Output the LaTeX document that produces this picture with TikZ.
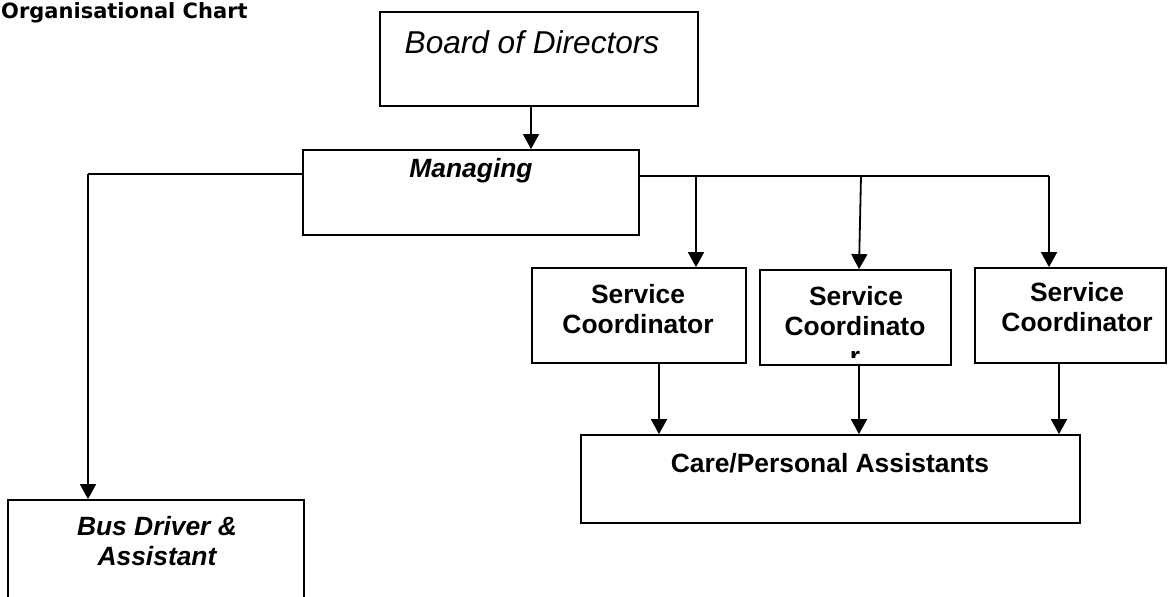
\documentclass[tikz,border=0pt]{standalone}
\usepackage{fontspec}
\setmainfont{Liberation Sans}
\newfontfamily\titlefont{DejaVu Sans}
\usetikzlibrary{arrows.meta}
\begin{document}
\begin{tikzpicture}[x=1pt,y=-1pt,
  box/.style={draw, line width=1.8pt, inner sep=0pt},
  conn/.style={line width=1.8pt},
  arr/.style={conn, -{Triangle[width=16pt,length=15pt]}},
  boldtxt/.style={font=\fontsize{26.4}{29.5}\selectfont\bfseries, inner sep=0pt, anchor=base},
  bitxt/.style={font=\fontsize{26.4}{29.5}\selectfont\bfseries\itshape, inner sep=0pt, anchor=base},
  itxt/.style={font=\fontsize{31.6}{35}\selectfont\itshape, inner sep=0pt, anchor=base},
]
\clip (0,0) rectangle (1168,597);
\fill[white] (0,0) rectangle (1168,597);

% title
\node[font=\titlefont\bfseries\fontsize{21}{23}\selectfont, anchor=base west, inner sep=0pt] (title) at (1,19) {Organisational Chart};

% boxes
\node[box, minimum width=318pt, minimum height=94pt] (board) at (539,59) {};
\node[box, minimum width=336pt, minimum height=85pt] (mgr) at (471,192.5) {};
\node[box, minimum width=214pt, minimum height=95pt] (sc1) at (639,315.5) {};
\node[box, minimum width=191pt, minimum height=95pt] (sc2) at (855.5,317.5) {};
\node[box, minimum width=191pt, minimum height=95pt] (sc3) at (1070.5,315.5) {};
\node[box, minimum width=499pt, minimum height=88pt] (care) at (830.5,479) {};
\node[box, minimum width=296pt, minimum height=140pt] (bus) at (156,570) {};

% texts
\node[itxt] (boardt) at (532,53) {Board of Directors};
\node[bitxt] (mgrt) at (471,177) {Managing};
\node[boldtxt] (sc1a) at (638,303) {Service};
\node[boldtxt] (sc1b) at (638,333) {Coordinator};
\node[boldtxt] (sc2a) at (856,305) {Service};
\node[boldtxt] (sc2b) at (855,335) {Coordinato};
\begin{scope}
  \clip (762,272) rectangle (949,357);
  \node[boldtxt] (sc2c) at (855,365) {r};
\end{scope}
\node[boldtxt] (sc3a) at (1077,301) {Service};
\node[boldtxt] (sc3b) at (1077,331) {Coordinator};
\node[boldtxt] (caret) at (830,472) {Care/Personal Assistants};
\node[bitxt] (bust1) at (157,535) {Bus Driver \&};
\node[bitxt] (bust2) at (157,565) {Assistant};

% junction points
\coordinate (ml) at (mgr.west |- 0,174);
\coordinate (jl) at (88,174);
\coordinate (mr) at (mgr.east |- 0,176);
\coordinate (j1) at (696,176);
\coordinate (j2) at (861,176);
\coordinate (j3) at (1049,176);

% connectors
\draw[arr] (531,0 |- board.south) -- (531,0 |- mgr.north);
\draw[conn] (ml) -- (jl);
\draw[arr] (jl) -- (88,0 |- bus.north);
\draw[conn] (mr) -- (j3);
\draw[arr] (j1) -- (696,0 |- sc1.north);
\draw[arr] (j2) -- (859,0 |- sc2.north);
\draw[arr] (j3) -- (1049,0 |- sc3.north);
\draw[arr] (659,0 |- sc1.south) -- (659,0 |- care.north);
\draw[arr] (859,0 |- sc2.south) -- (859,0 |- care.north);
\draw[arr] (1059,0 |- sc3.south) -- (1059,0 |- care.north);
\end{tikzpicture}
\end{document}
